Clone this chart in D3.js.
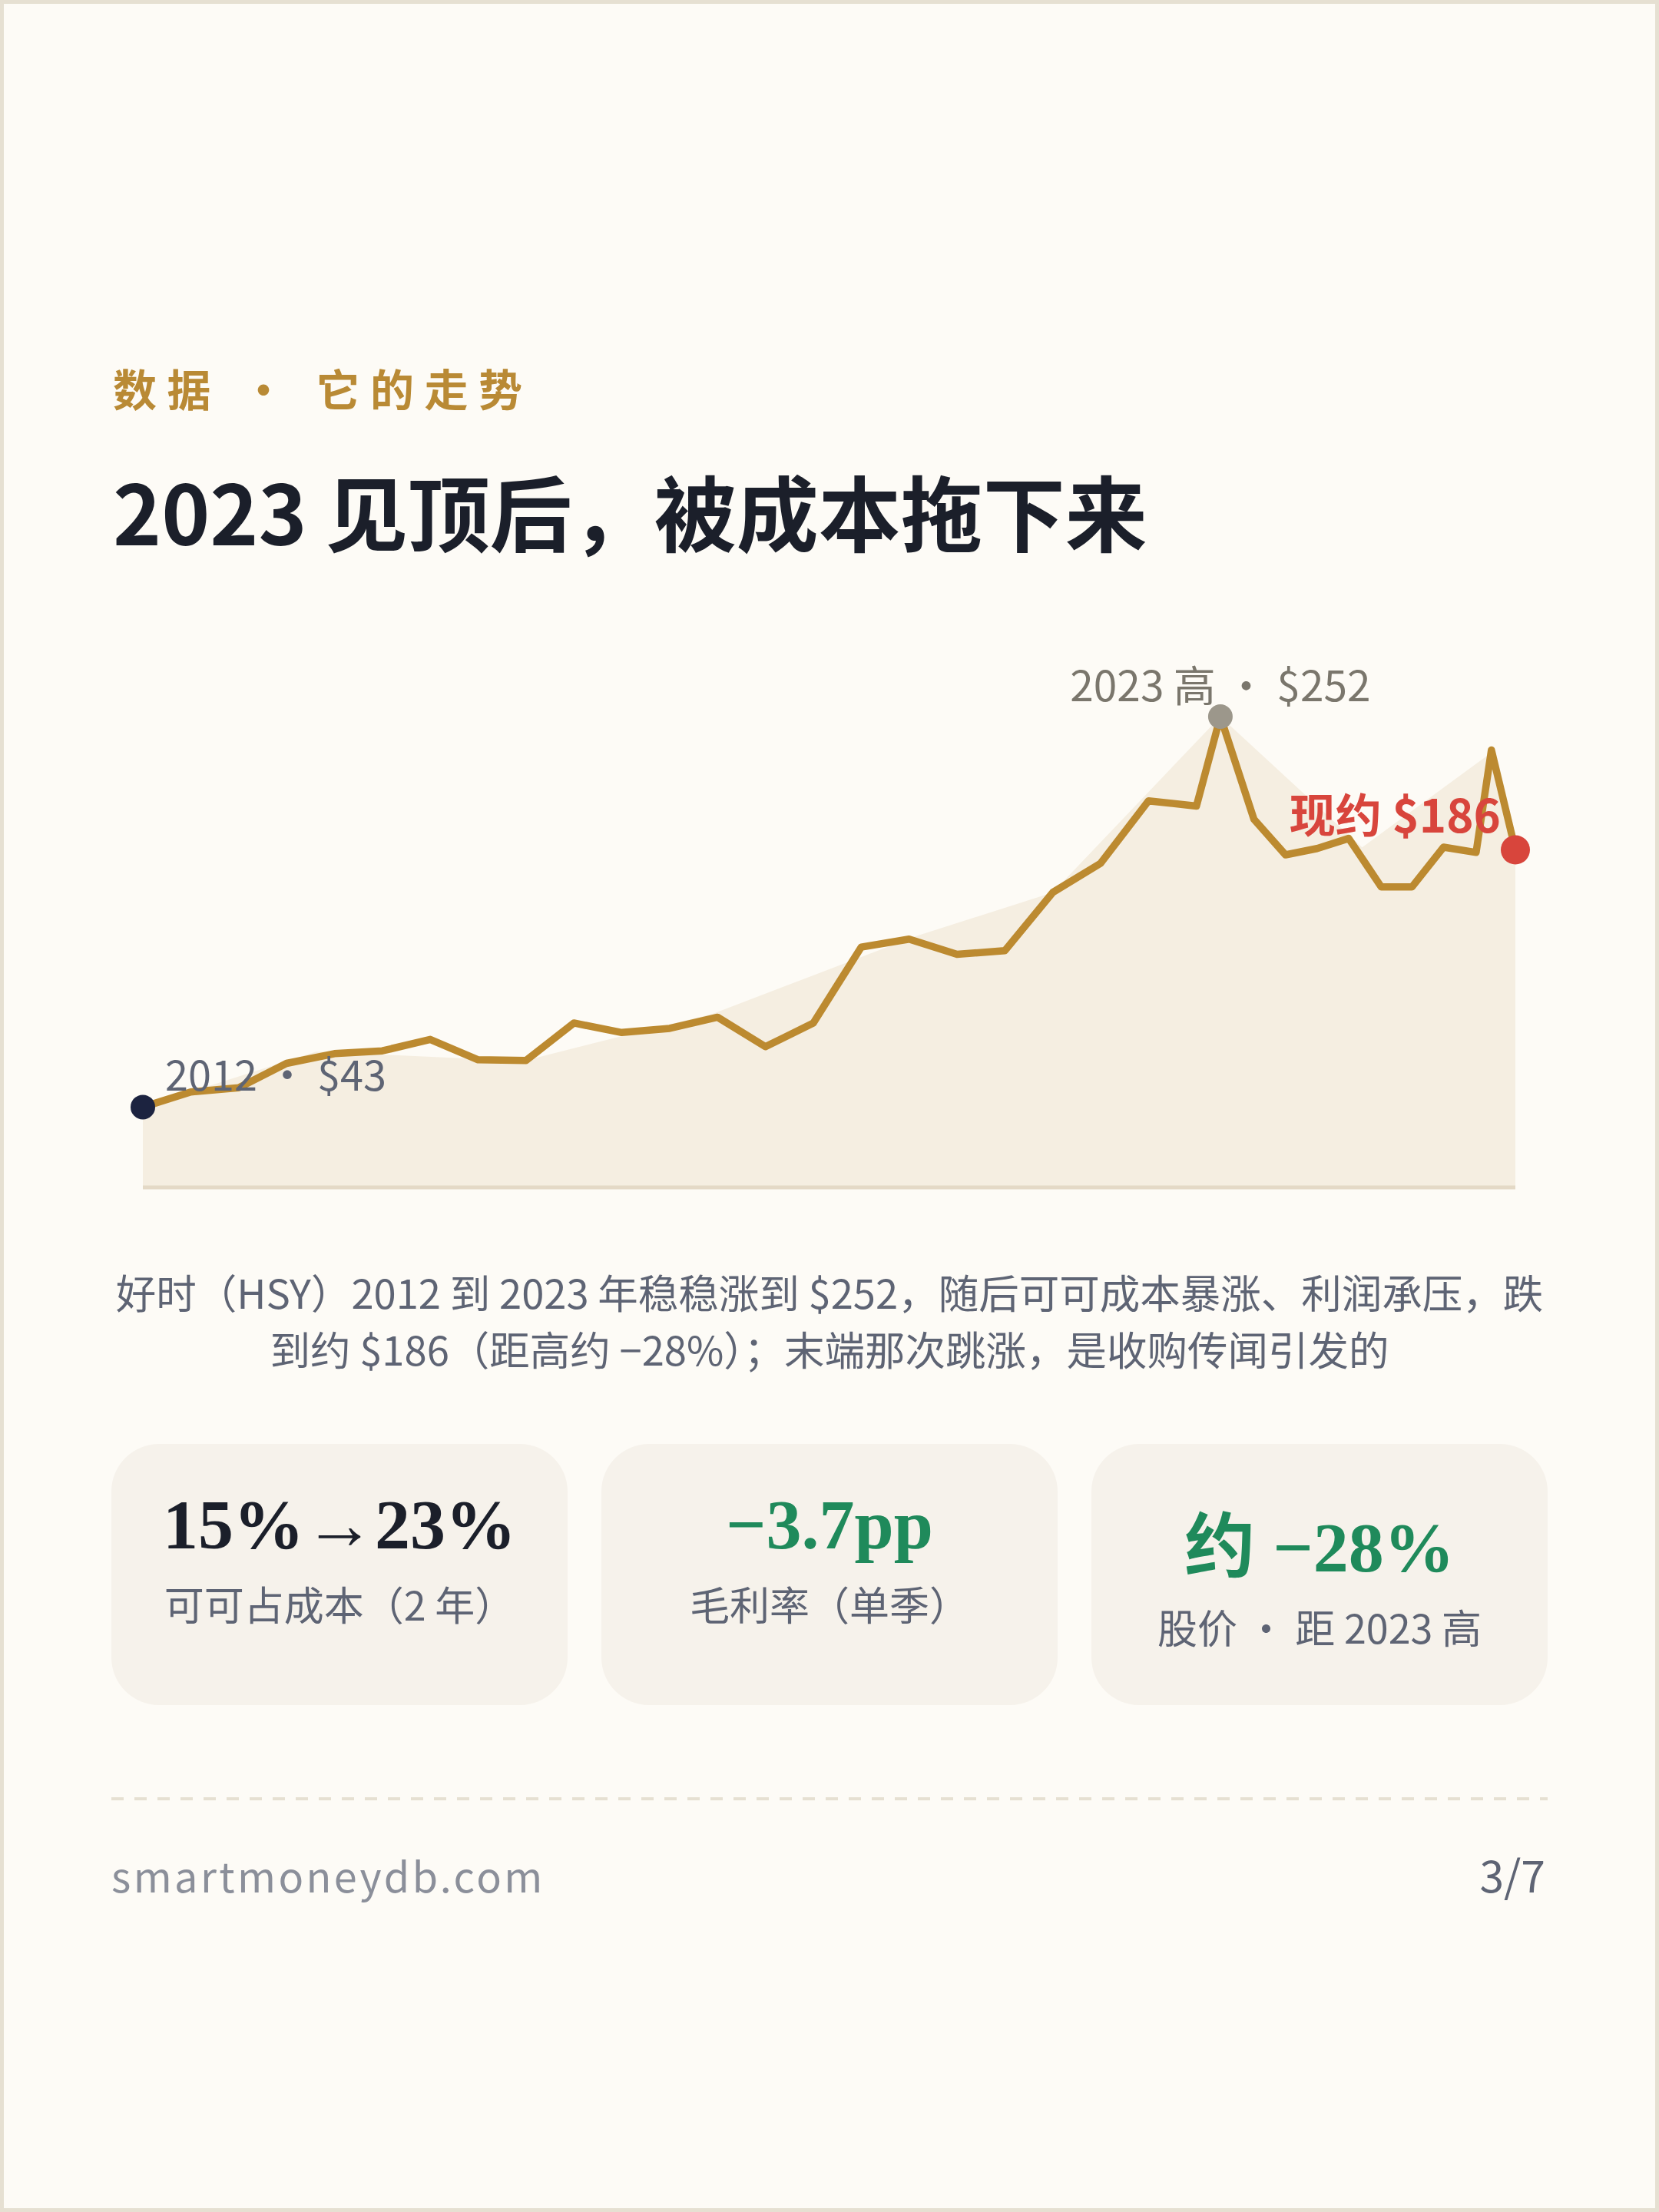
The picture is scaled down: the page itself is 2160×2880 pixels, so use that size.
<!DOCTYPE html>
<html><head><meta charset="utf-8">
<script src="https://cdn.jsdelivr.net/npm/d3@7/dist/d3.min.js"></script>
<style>html,body{margin:0;padding:0;background:#FDFBF6;} svg{display:block}</style>
</head><body><div id="chart"></div>
<script>
// ---- data ----
const dates = [2012.0, 2012.5, 2013.0, 2013.5, 2014.0, 2014.5, 2015.0, 2015.5, 2016.0, 2016.5,
  2017.0, 2017.5, 2018.0, 2018.5, 2019.0, 2019.5, 2020.0, 2020.5, 2021.0, 2021.5,
  2022.0, 2022.5, 2023.0, 2023.25, 2023.6, 2023.93, 2024.26, 2024.59, 2024.93, 2025.25,
  2025.58, 2025.92, 2026.08, 2026.33];
const prices = [43.0, 51.1, 53.3, 66.4, 71.6, 73.1, 79.2, 68.3, 67.9, 88.0,
  82.9, 85.1, 91.1, 75.3, 88.0, 128.6, 132.9, 124.8, 126.7, 157.9,
  173.5, 206.9, 204.1, 252.0, 197.1, 178.0, 181.4, 186.8, 160.8, 160.8,
  182.1, 179.3, 234.1, 180.7];
const areaDates = [2012.0, 2013.81, 2015.97, 2016.97, 2017.95, 2020.05, 2021.5, 2023.25, 2024.73, 2026.07, 2026.33];
const areaPrices = [43.0, 72.7, 67.6, 80.6, 92.9, 134.1, 157.9, 252.0, 182.0, 232.4, 180.7];

const kicker = "数据 · 它的走势";
const title = "2023 见顶后，被成本拖下来";
const startLabel = "2012 · $43";
const peakLabel = "2023 高 · $252";
const endLabel = "现约 $186";
const captionLines = [
  "好时（HSY）2012 到 2023 年稳稳涨到 $252，随后可可成本暴涨、利润承压，跌",
  "到约 $186（距高约 −28%）；末端那次跳涨，是收购传闻引发的"
];
const cardValues = ["15%→23%", "−3.7pp", "约 −28%"];
const cardLabels = ["可可占成本（2 年）", "毛利率（单季）", "股价 · 距 2023 高"];
const footerSite = "smartmoneydb.com";
const footerPage = "3/7";

// ---- styles ----
const W = 2160, H = 2880;
const SANS = "'Noto Sans CJK SC','Noto Sans',sans-serif";
const SERIF = "'Liberation Serif','Noto Sans CJK SC',serif";
const valueColors = ["#1B1F2A", "#1F8A5B", "#1F8A5B"];

const svg = d3.select("#chart").append("svg")
  .attr("width", W).attr("height", H).attr("viewBox", `0 0 ${W} ${H}`);

svg.append("rect").attr("x", 0).attr("y", 0).attr("width", W).attr("height", H).attr("fill", "#FDFBF6");
svg.append("rect").attr("x", 2.5).attr("y", 2.5).attr("width", W - 5).attr("height", H - 5)
  .attr("fill", "none").attr("stroke", "#E6E0D2").attr("stroke-width", 5);

// header
svg.append("text").attr("x", 147).attr("y", 529)
  .attr("font-family", SANS).attr("font-weight", 700).attr("font-size", 57)
  .attr("letter-spacing", 13.5).attr("fill", "#B98A35").text(kicker);
svg.append("text").attr("x", 147).attr("y", 710)
  .attr("font-family", SANS).attr("font-weight", 700).attr("font-size", 107)
  .attr("fill", "#1B1F2A").text(title);

// chart
const series = dates.map((t, i) => ({t, v: prices[i]}));
const areaSeries = areaDates.map((t, i) => ({t, v: areaPrices[i]}));
const x = d3.scaleLinear().domain(d3.extent(dates)).range([186, 1973]);
const y = d3.scaleLinear().domain([0, d3.max(prices)]).range([1546, 933]);

const g = svg.append("g");
g.append("path").datum(areaSeries)
  .attr("d", d3.area().x(d => x(d.t)).y0(y(0)).y1(d => y(d.v)))
  .attr("fill", "#F5EEE1");
g.append("line").attr("x1", x(dates[0])).attr("x2", x(dates[dates.length - 1]))
  .attr("y1", y(0)).attr("y2", y(0)).attr("stroke", "#E4D9C6").attr("stroke-width", 5);
g.append("path").datum(series)
  .attr("d", d3.line().x(d => x(d.t)).y(d => y(d.v)))
  .attr("fill", "none").attr("stroke", "#BC8A30").attr("stroke-width", 9.5)
  .attr("stroke-linejoin", "round").attr("stroke-linecap", "round");

const first = series[0];
const peak = series[d3.maxIndex(series, d => d.v)];
const last = series[series.length - 1];

g.append("circle").attr("cx", x(first.t)).attr("cy", y(first.v)).attr("r", 16).attr("fill", "#1C2340");
g.append("circle").attr("cx", x(peak.t)).attr("cy", y(peak.v)).attr("r", 16).attr("fill", "#9C978B");
g.append("circle").attr("cx", x(last.t)).attr("cy", y(last.v)).attr("r", 19).attr("fill", "#D8453C");

g.append("text").attr("x", x(first.t) + 29).attr("y", y(first.v) - 21)
  .attr("font-family", SANS).attr("font-size", 54).attr("fill", "#5E6474").text(startLabel);
g.append("text").attr("x", x(peak.t)).attr("y", y(peak.v) - 20).attr("text-anchor", "middle")
  .attr("font-family", SANS).attr("font-size", 55).attr("fill", "#7A766C").text(peakLabel);
g.append("text").attr("x", x(last.t) - 19).attr("y", y(last.v) - 22).attr("text-anchor", "end")
  .attr("font-family", SANS).attr("font-weight", 700).attr("font-size", 60).attr("fill", "#D8453C").text(endLabel);

// caption
svg.append("g").selectAll("text").data(captionLines).join("text")
  .attr("x", W / 2).attr("y", (d, i) => 1704 + i * 74).attr("text-anchor", "middle")
  .attr("font-family", SANS).attr("font-size", 52.5).attr("fill", "#5E6474").text(d => d);

// cards
const cardX0 = 145, cardW = 594, cardGap = 44, cardY = 1880, cardH = 340;
const cards = svg.append("g").selectAll("g").data(cardValues).join("g")
  .attr("transform", (d, i) => `translate(${cardX0 + i * (cardW + cardGap)},${cardY})`);
cards.append("rect").attr("width", cardW).attr("height", cardH).attr("rx", 62).attr("ry", 62).attr("fill", "#F6F2EB");
const cjkShift = d => /[\u4e00-\u9fff]/.test(d) ? 30 : 0;
cards.append("text").attr("x", cardW / 2).attr("y", d => 136 + cjkShift(d)).attr("text-anchor", "middle")
  .attr("font-family", SERIF).attr("font-weight", 700).attr("font-size", 92)
  .attr("fill", (d, i) => valueColors[i]).text(d => d);
cards.append("text").attr("x", cardW / 2).attr("y", (d, i) => 230 + cjkShift(cardValues[i]))
  .attr("text-anchor", "middle").attr("font-family", SANS).attr("font-size", 52)
  .attr("fill", "#5E6474").text((d, i) => cardLabels[i]);

// footer
svg.append("line").attr("x1", 145).attr("x2", 2015).attr("y1", 2342).attr("y2", 2342)
  .attr("stroke", "#E6E0D2").attr("stroke-width", 4).attr("stroke-dasharray", "16 14");
svg.append("text").attr("x", 145).attr("y", 2464).attr("font-family", SANS).attr("font-size", 54)
  .attr("letter-spacing", 3.4).attr("fill", "#8B8F9A").text(footerSite);
svg.append("text").attr("x", 2012).attr("y", 2464).attr("text-anchor", "end").attr("font-family", SANS)
  .attr("font-size", 57).attr("fill", "#5E6474").text(footerPage);
</script></body></html>
